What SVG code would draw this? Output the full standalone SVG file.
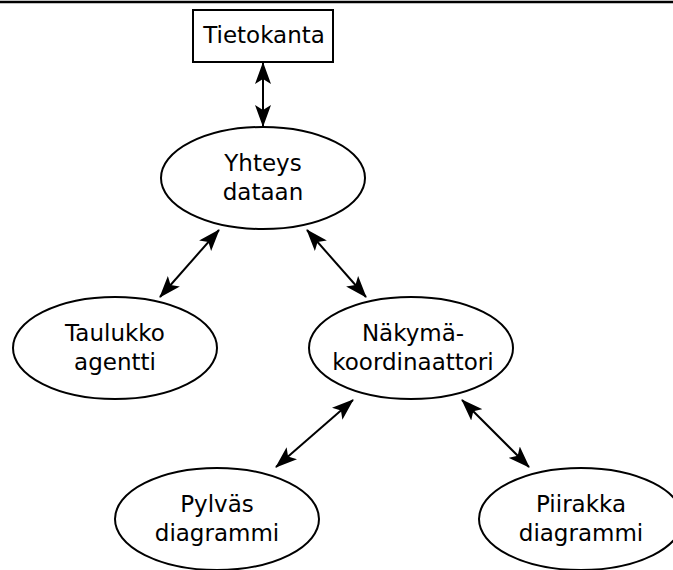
<svg xmlns="http://www.w3.org/2000/svg" width="673" height="570" viewBox="0 0 673 570">
  <style>
    .node { fill: #fff; stroke: #000; stroke-width: 2; }
    .label { font-family: "DejaVu Sans", sans-serif; font-size: 23px; fill: #000; text-anchor: middle; }
    .link { stroke: #000; stroke-width: 2; fill: none; marker-start: url(#head); marker-end: url(#head); }
  </style>
  <defs>
    <marker id="head" viewBox="0 0 22 16" refX="21" refY="8" markerWidth="22" markerHeight="16" markerUnits="userSpaceOnUse" orient="auto-start-reverse">
      <path d="M0,0 L22,8 L0,16 L5,8 Z" fill="#000"/>
    </marker>
  </defs>
  <rect width="673" height="570" fill="#fff"/>
  <line x1="0" y1="2" x2="673" y2="2" stroke="#000" stroke-width="2.5"/>

  <g id="connectors">
    <line class="link" x1="263" y1="63" x2="263" y2="126"/>
    <line class="link" x1="219" y1="230" x2="160" y2="297"/>
    <line class="link" x1="307" y1="230" x2="366" y2="297"/>
    <line class="link" x1="353" y1="400" x2="276" y2="467"/>
    <line class="link" x1="462" y1="400" x2="529" y2="467"/>
  </g>

  <g id="tietokanta">
    <rect class="node" x="193" y="10" width="140" height="52"/>
    <text class="label" x="264" y="43">Tietokanta</text>
  </g>
  <g id="yhteys">
    <ellipse class="node" cx="263" cy="178" rx="102" ry="51"/>
    <text class="label" x="263" y="171">Yhteys</text>
    <text class="label" x="263" y="200">dataan</text>
  </g>
  <g id="taulukko">
    <ellipse class="node" cx="115" cy="348" rx="102" ry="51"/>
    <text class="label" x="115" y="341">Taulukko</text>
    <text class="label" x="115" y="370">agentti</text>
  </g>
  <g id="nakyma">
    <ellipse class="node" cx="411" cy="348" rx="102" ry="51"/>
    <text class="label" x="413" y="341">Näkymä-</text>
    <text class="label" x="413" y="370">koordinaattori</text>
  </g>
  <g id="pylvas">
    <ellipse class="node" cx="217" cy="519" rx="102" ry="51"/>
    <text class="label" x="217" y="512">Pylväs</text>
    <text class="label" x="217" y="541">diagrammi</text>
  </g>
  <g id="piirakka">
    <ellipse class="node" cx="581" cy="519" rx="102" ry="51"/>
    <text class="label" x="581" y="512">Piirakka</text>
    <text class="label" x="581" y="541">diagrammi</text>
  </g>
</svg>
